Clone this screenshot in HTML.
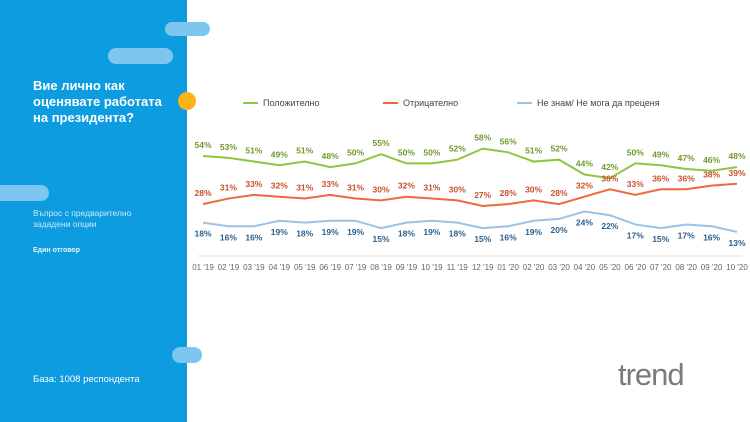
<!DOCTYPE html>
<html><head><meta charset="utf-8"><style>
body{margin:0;width:750px;height:422px;overflow:hidden;background:#fff;font-family:"Liberation Sans",sans-serif;position:relative}
.abs{position:absolute}
.pill{position:absolute;background:#7cc6ef;border-radius:9px}
</style></head><body>
<div class="abs" style="left:0;top:0;width:187px;height:422px;background:#0d9ce0"></div>
<div class="pill" style="left:165px;top:22px;width:45px;height:14px"></div>
<div class="pill" style="left:108px;top:48px;width:65px;height:16px"></div>
<div class="pill" style="left:-10px;top:185px;width:59px;height:16px"></div>
<div class="pill" style="left:172px;top:347px;width:30px;height:16px"></div>
<div class="abs" style="left:178px;top:92px;width:18px;height:18px;border-radius:50%;background:#fbb415"></div>
<div class="abs" style="left:33px;top:78px;color:#fff;font-size:13px;line-height:16px;font-weight:bold">Вие лично как<br>оценявате работата<br>на президента?</div>
<div class="abs" style="left:33px;top:208px;color:#cfe9f8;font-size:8.5px;line-height:11px">Въпрос с предварително<br>зададени опции</div>
<div class="abs" style="left:33px;top:247px;color:#e6f4fc;font-size:7px;font-weight:bold">Един отговор</div>
<div class="abs" style="left:33px;top:374px;color:#fff;font-size:9.5px">База: 1008 респондента</div>
<div class="abs" style="left:618px;top:357px;color:#7a7a7a;font-size:31px;letter-spacing:-1px">trend</div>
<svg id="chart" class="abs" style="left:0;top:0" width="750" height="422"></svg>
<script>
const categories=["01 '19","02 '19","03 '19","04 '19","05 '19","06 '19","07 '19","08 '19","09 '19","10 '19","11 '19","12 '19","01 '20","02 '20","03 '20","04 '20","05 '20","06 '20","07 '20","08 '20","09 '20","10 '20"];
const positive=[54,53,51,49,51,48,50,55,50,50,52,58,56,51,52,44,42,50,49,47,46,48];
const negative=[28,31,33,32,31,33,31,30,32,31,30,27,28,30,28,32,36,33,36,36,38,39];
const unsure=[18,16,16,19,18,19,19,15,18,19,18,15,16,19,20,24,22,17,15,17,16,13];
const seriesNames=["Положително","Отрицателно","Не знам/ Не мога да преценя"];
const NS="http://www.w3.org/2000/svg";
const svg=document.getElementById('chart');
const x=i=>203+i*(737-203)/(categories.length-1);
const y=v=>156+(54-v)*1.85;
function mk(t,a){const e=document.createElementNS(NS,t);for(const k in a)e.setAttribute(k,a[k]);svg.appendChild(e);return e;}
const ax=mk('line',{x1:198,x2:742,y1:256,y2:256,stroke:'#ddd','stroke-width':1});


categories.forEach((c,i)=>{
 const t=mk('text',{x:x(i),y:270,'text-anchor':'middle','font-size':8,fill:'#666','font-family':'Liberation Sans'});
 t.textContent=c;
 
 
});
const series=[[positive,'#8dc63f','#6f9a2e',-8],[negative,'#ee6a3c','#c9502a',-8],[unsure,'#9cc3e6','#2f5f8a',14]];
series.forEach(([d,lc,tc,off],si)=>{
 const p=mk('polyline',{points:d.map((v,i)=>x(i)+','+y(v)).join(' '),fill:'none',stroke:lc,'stroke-width':2});
 
 
 d.forEach((v,i)=>{
  const t=mk('text',{x:x(i),y:y(v)+off,'text-anchor':'middle','font-size':8.5,'font-weight':'bold',fill:tc,'font-family':'Liberation Sans'});
  t.textContent=v+'%';
  
  
 });
 const lx=[243,383,517][si];
 const l=mk('line',{x1:lx,x2:lx+15,y1:103,y2:103,stroke:lc,'stroke-width':2});
 
 
 const lt=mk('text',{x:lx+20,y:106,'font-size':9,fill:'#444','font-family':'Liberation Sans'});
 lt.textContent=seriesNames[si];
 
 
});
</script>
</body></html>
